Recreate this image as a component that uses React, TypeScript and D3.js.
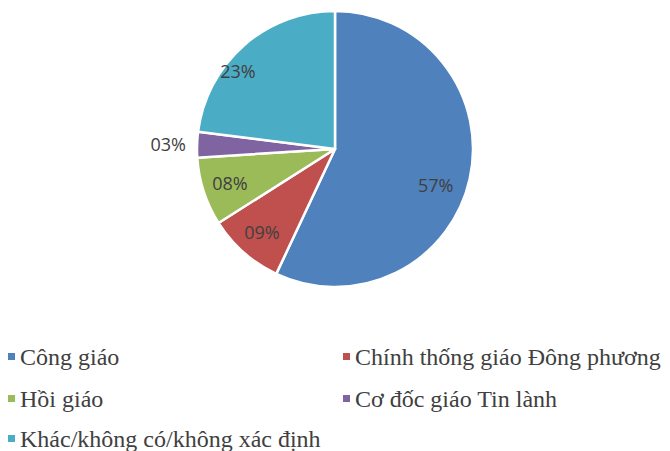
import React from "react";
import * as d3 from "d3";

const categories = [
  "Công giáo",
  "Chính thống giáo Đông phương",
  "Hồi giáo",
  "Cơ đốc giáo Tin lành",
  "Khác/không có/không xác định",
];
const values = [57, 9, 8, 3, 23];
const colors = ["#4F81BD", "#C0504D", "#9BBB59", "#8064A2", "#4BACC6"];

const W = 670;
const H = 451;
const cx = 335;
const cy = 149;
const R = 138;

// small label nudges (mimic Excel "best fit")
const labelNudge: Record<number, [number, number]> = { 0: [-7, 12], 4: [-24, 5] };

export default function App() {
  const pie = d3.pie<number>().sort(null).value((d) => d);
  const arcs = pie(values);
  const arc = d3.arc<d3.PieArcDatum<number>>().innerRadius(0).outerRadius(R);
  const fmt = (v: number) => d3.format("02d")(v) + "%";

  const legendX = [8, 343];
  const legendY = [357, 399, 439];

  return (
    <svg width={W} height={H} style={{ position: "absolute", left: 0, top: 0, background: "#fff" }}>
      <g transform={`translate(${cx},${cy})`}>
        {arcs.map((a, i) => (
          <path key={i} d={arc(a) || ""} fill={colors[i]} stroke="#fff" strokeWidth={2.5} strokeLinejoin="round" />
        ))}
        {arcs.map((a, i) => {
          const frac = (a.endAngle - a.startAngle) / (2 * Math.PI);
          const rl = frac < 0.05 ? R * 1.21 : R * 0.8;
          const ang = (a.startAngle + a.endAngle) / 2;
          const nudge = labelNudge[i] || [0, 0];
          const x = Math.sin(ang) * rl + nudge[0];
          const y = -Math.cos(ang) * rl + nudge[1];
          return (
            <text key={i} x={x} y={y} textAnchor="middle" dominantBaseline="central"
              fontFamily="Open Sans, sans-serif" fontSize={18} fill="#404040">
              {fmt(values[i])}
            </text>
          );
        })}
      </g>
      {categories.map((c, i) => {
        const col = i % 2;
        const row = Math.floor(i / 2);
        const x = legendX[col];
        const y = legendY[row];
        return (
          <g key={c}>
            <rect x={x} y={y - 4} width={7} height={7} fill={colors[i]} />
            <text x={x + 12} y={y} dominantBaseline="central"
              style={{ fontFamily: "'Times New Roman', Tinos, 'Liberation Serif', Times, serif", fontSize: "24px" }}
              fill="#404040">
              {c}
            </text>
          </g>
        );
      })}
    </svg>
  );
}
